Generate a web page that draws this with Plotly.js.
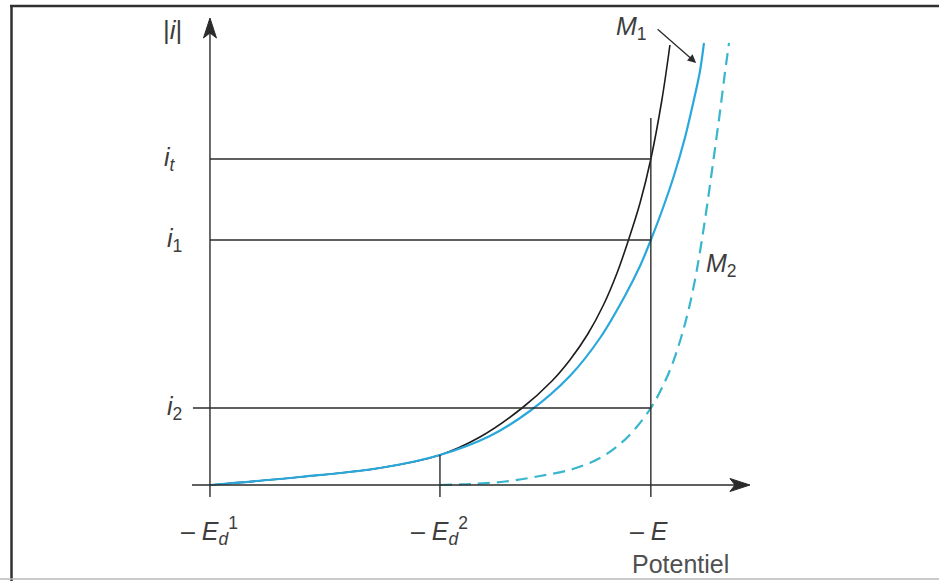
<!DOCTYPE html>
<html>
<head>
<meta charset="utf-8">
<script src="https://cdn.plot.ly/plotly-3.0.1.min.js"></script>
<style>html,body{margin:0;padding:0;background:#fff;}#chart{width:939px;height:581px;}</style>
</head>
<body>
<div id="chart"></div>
<script>
// ---- data (x: potential units, -E_d^1 = 0, -E_d^2 = 1 ; y: |i| units) ----
var blackX = [0, 0.391, 0.739, 1.0, 1.174, 1.357, 1.487, 1.565, 1.643, 1.713, 1.770, 1.817, 1.870, 1.917, 1.965, 2.0];
var blackY = [0, 0.08, 0.17, 0.30, 0.48, 0.77, 1.04, 1.25, 1.51, 1.81, 2.12, 2.43, 2.82, 3.26, 3.85, 4.40];

var m1X = [0, 0.391, 0.739, 1.0, 1.217, 1.391, 1.565, 1.696, 1.804, 1.870, 1.917, 1.965, 2.017, 2.065, 2.104, 2.130, 2.148];
var m1Y = [0, 0.08, 0.17, 0.30, 0.49, 0.74, 1.09, 1.47, 1.89, 2.19, 2.45, 2.74, 3.09, 3.47, 3.85, 4.13, 4.42];

var m2X = [1.0, 1.130, 1.283, 1.435, 1.578, 1.696, 1.783, 1.848, 1.917, 1.965, 2.009, 2.048, 2.083, 2.113, 2.139, 2.165, 2.191, 2.217, 2.239, 2.257];
var m2Y = [0, 0.01, 0.035, 0.09, 0.16, 0.27, 0.41, 0.56, 0.77, 0.97, 1.20, 1.47, 1.77, 2.10, 2.45, 2.85, 3.28, 3.72, 4.12, 4.42];

var levelLabels = ['<i>i</i><sub><i>t</i></sub>', '<i>i</i><sub>1</sub>', '<i>i</i><sub>2</sub>'];
var levelValues = [3.26, 2.45, 0.77];

var potLabels = ['– <i>E</i><sub><i>d</i></sub><sup>1</sup>', '– <i>E</i><sub><i>d</i></sub><sup>2</sup>', '– <i>E</i>'];
var potValues = [0, 1, 1.917];

var axisXEnd = 2.348, axisYEnd = 4.67;

// ---- styles ----
var INK = '#2b2b2b', TXT = '#3d3d3d';
var BLUE = '#2aa8dc', TEAL = '#38b6cc';
var FONT = 'Liberation Sans, Arial, sans-serif';

var traces = [
  {x: blackX, y: blackY, mode: 'lines', line: {color: '#1c1c1c', width: 1.6, shape: 'spline', smoothing: 1}, hoverinfo: 'skip'},
  {x: m1X, y: m1Y, mode: 'lines', line: {color: BLUE, width: 2.2, shape: 'spline', smoothing: 1}, hoverinfo: 'skip'},
  {x: m2X, y: m2Y, mode: 'lines', line: {color: TEAL, width: 2.2, shape: 'spline', smoothing: 1, dash: '12px,7px'}, hoverinfo: 'skip'}
];

var shapes = [];
var lineStyle = {color: INK, width: 1.4};
// axes
shapes.push({type: 'line', xref: 'x', yref: 'y', x0: -0.078, x1: axisXEnd - 0.05, y0: 0, y1: 0, line: lineStyle});
shapes.push({type: 'line', xref: 'x', yref: 'y', x0: 0, x1: 0, y0: -0.12, y1: axisYEnd - 0.1, line: lineStyle});
// arrowheads (pixel-sized, anchored at axis ends)
shapes.push({type: 'path', xref: 'x', yref: 'y', xsizemode: 'pixel', ysizemode: 'pixel', xanchor: axisXEnd, yanchor: 0,
  path: 'M0,0 L-20,6.5 L-15,0 L-20,-6.5 Z', fillcolor: INK, line: {color: INK, width: 1}});
shapes.push({type: 'path', xref: 'x', yref: 'y', xsizemode: 'pixel', ysizemode: 'pixel', xanchor: 0, yanchor: axisYEnd,
  path: 'M0,0 L-6.5,-20 L0,-15 L6.5,-20 Z', fillcolor: INK, line: {color: INK, width: 1}});
// horizontal current levels
for (var k = 0; k < levelValues.length; k++) {
  shapes.push({type: 'line', xref: 'x', yref: 'y', x0: (k === 2 ? -0.074 : 0), x1: potValues[2], y0: levelValues[k], y1: levelValues[k], line: lineStyle});
}
// vertical potential markers
shapes.push({type: 'line', xref: 'x', yref: 'y', x0: potValues[2], x1: potValues[2], y0: -0.12, y1: 3.67, line: lineStyle});
shapes.push({type: 'line', xref: 'x', yref: 'y', x0: potValues[1], x1: potValues[1], y0: -0.12, y1: m1Y[3], line: lineStyle});
// frame
shapes.push({type: 'line', xref: 'paper', yref: 'paper', x0: 11.5/939, x1: 11.5/939, y0: 0, y1: 1 - 5/581, line: {color: '#303030', width: 2.5}});
shapes.push({type: 'line', xref: 'paper', yref: 'paper', x0: 10/939, x1: 1, y0: 1 - 6/581, y1: 1 - 6/581, line: {color: '#303030', width: 2.5}});
shapes.push({type: 'line', xref: 'paper', yref: 'paper', x0: 0, x1: 1, y0: 2/581, y1: 2/581, line: {color: '#b8b8b8', width: 1.5}});

var annotations = [];
var f = function (s) { return {family: FONT, size: s, color: TXT}; };
// level labels
var levelLabelX = [-0.175, -0.155, -0.155];
for (var k = 0; k < levelValues.length; k++) {
  annotations.push({x: levelLabelX[k], y: levelValues[k], xref: 'x', yref: 'y', text: levelLabels[k], showarrow: false, font: f(25), xanchor: 'center', yanchor: 'middle'});
}
// potential labels
for (var k = 0; k < potValues.length; k++) {
  annotations.push({x: potValues[k] - (k === 2 ? 0.01 : 0), y: -0.46, xref: 'x', yref: 'y', text: potLabels[k], showarrow: false, font: f(25), xanchor: 'center', yanchor: 'middle'});
}
annotations.push({x: 2.048, y: -0.79, xref: 'x', yref: 'y', text: 'Potentiel', showarrow: false, font: {family: FONT, size: 25, color: '#505050'}, xanchor: 'center', yanchor: 'middle'});
annotations.push({x: -0.165, y: 4.55, xref: 'x', yref: 'y', text: '|<i>i</i>|', showarrow: false, font: f(26), xanchor: 'center', yanchor: 'middle'});
// series labels
annotations.push({x: 1.835, y: 4.57, xref: 'x', yref: 'y', text: '<i>M</i><sub>1</sub>', showarrow: false, font: f(25), xanchor: 'center', yanchor: 'middle'});
annotations.push({x: m1X[m1X.length - 3] + 0.01, y: 4.22, ax: 1.94, ay: 4.57, xref: 'x', yref: 'y', axref: 'x', ayref: 'y', text: '', showarrow: true,
  arrowhead: 2, arrowsize: 1.3, arrowwidth: 1.3, arrowcolor: INK});
annotations.push({x: 2.225, y: 2.20, xref: 'x', yref: 'y', text: '<i>M</i><sub>2</sub>', showarrow: false, font: f(25), xanchor: 'center', yanchor: 'middle'});

var layout = {
  width: 939, height: 581,
  margin: {l: 0, r: 0, t: 0, b: 0, pad: 0},
  paper_bgcolor: '#ffffff', plot_bgcolor: '#ffffff',
  showlegend: false,
  xaxis: {range: [-0.913, 3.170], visible: false, fixedrange: true},
  yaxis: {range: [-0.96, 4.85], visible: false, fixedrange: true},
  shapes: shapes,
  annotations: annotations
};

Plotly.newPlot('chart', traces, layout, {staticPlot: true, displayModeBar: false});
</script>
</body>
</html>
